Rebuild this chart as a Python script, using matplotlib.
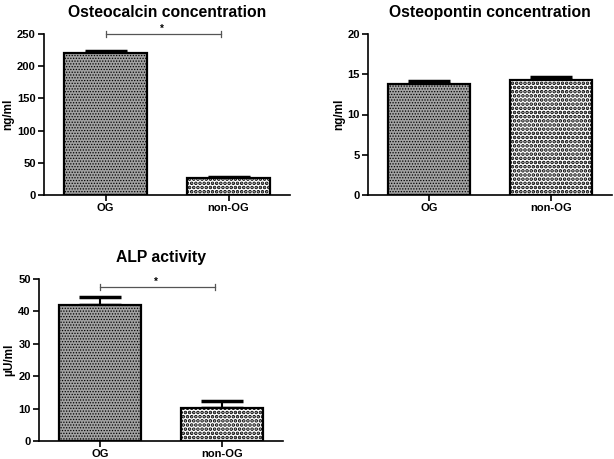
import matplotlib
matplotlib.use('Agg')
import matplotlib.pyplot as plt

plt.rcParams['font.family'] = ['Liberation Sans', 'DejaVu Sans']
plt.rcParams['font.weight'] = 'bold'

groups = ['OG', 'non-OG']

# osteocalcin (ng/ml)
ocn_mean = [221, 26]
ocn_err = [3, 2]
# osteopontin (ng/ml)
opn_mean = [13.8, 14.3]
opn_err = [0.3, 0.3]
# ALP (µU/ml)
alp_mean = [42, 10.3]
alp_err = [2.5, 2.2]

panels = [
    ('Osteocalcin concentration', 'ng/ml', ocn_mean, ocn_err, 250, 50, 250, -0.122,
     [44/614, 1 - 195/459, 246/614, 161/459]),
    ('Osteopontin concentration', 'ng/ml', opn_mean, opn_err, 20, 5, None, -0.094,
     [368/614, 1 - 195/459, 244/614, 161/459]),
    ('ALP activity', '\u00b5U/ml', alp_mean, alp_err, 50, 10, 47.5, -0.098,
     [39/614, 1 - 441/459, 244/614, 162/459]),
]

fig = plt.figure(figsize=(6.14, 4.59), dpi=100)

for title, ylab, mean, err, ymax, step, sig_y, lab_x, pos in panels:
    ax = fig.add_axes(pos)
    x = range(len(groups))
    # OG bar: fine grey checker, non-OG: coarse black/white checker
    with plt.rc_context({'hatch.linewidth': 0.6}):
        ax.bar(0, mean[0], width=0.68, color='#a2a2a2', edgecolor='black',
               linewidth=1.6, hatch='......', zorder=2)
    with plt.rc_context({'hatch.linewidth': 1.8}):
        ax.bar(1, mean[1], width=0.68, color='white', edgecolor='black',
               linewidth=1.6, hatch='....', zorder=2)
    ax.errorbar(list(x), mean, yerr=[[0, 0], err], fmt='none', ecolor='black',
                elinewidth=1.5, capsize=15, capthick=2.5, zorder=1)

    ax.set_xlim(-0.5, 1.5)
    ax.set_ylim(0, ymax)
    ax.set_yticks(range(0, ymax + 1, step))
    ax.set_xticks(list(x))
    ax.set_xticklabels(groups)
    ax.spines['top'].set_visible(False)
    ax.spines['right'].set_visible(False)
    ax.spines['left'].set_linewidth(1.2)
    ax.spines['bottom'].set_linewidth(1.2)
    ax.tick_params(axis='both', direction='out', length=4, width=1.2, labelsize=8, pad=2)
    ax.set_ylabel(ylab, fontsize=8.5, fontweight='bold')
    ax.yaxis.set_label_coords(lab_x, 0.5)
    ax.set_title(title, fontsize=11.3, fontweight='bold', pad=12)

    if sig_y is not None:
        tk = ymax * 0.02
        ax.plot([0, 0.94], [sig_y, sig_y], color='#555555', lw=0.9, clip_on=False)
        ax.plot([0, 0], [sig_y - tk, sig_y + tk], color='#555555', lw=0.9, clip_on=False)
        ax.plot([0.94, 0.94], [sig_y - tk, sig_y + tk], color='#555555', lw=0.9, clip_on=False)
        ax.annotate('*', (0.46, sig_y), xytext=(0, 1.4), textcoords='offset points',
                    ha='center', va='baseline', fontsize=7, fontweight='bold',
                    annotation_clip=False)

fig.savefig('out.png', dpi=100)
